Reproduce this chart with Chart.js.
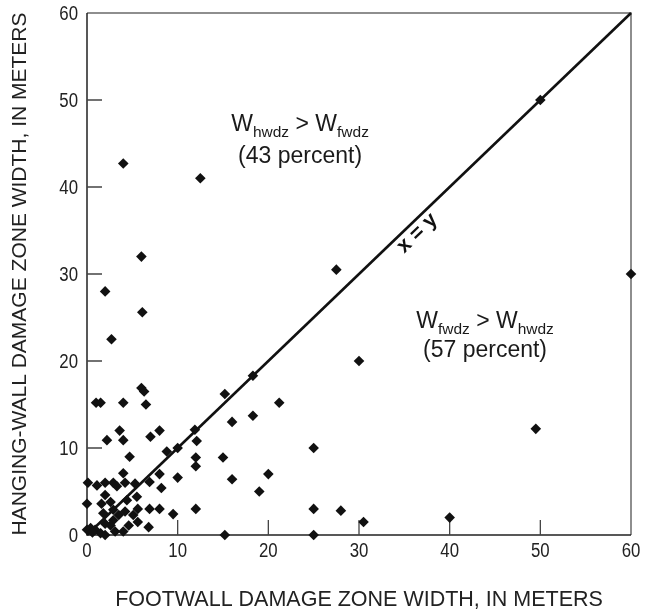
<!DOCTYPE html>
<html lang="en">
<head>
<meta charset="UTF-8">
<title>Damage zone widths</title>
<script src="https://cdn.jsdelivr.net/npm/chart.js"></script>
<style>
  html, body { margin: 0; padding: 0; background: #fff; }
  #wrap { width: 652px; height: 615px; }
</style>
</head>
<body>
<div id="wrap"><canvas id="dzChart"></canvas></div>
<script>
// footwall (x) and hanging-wall (y) damage zone widths, in meters
const footwall = [
  4.0, 12.5, 6.0, 2.0, 6.1, 2.7, 18.3, 50, 60, 27.5, 30, 49.5, 28, 30.5, 40,
  15.2, 21.2, 18.3, 16.0, 25, 15, 16, 20, 19, 25, 15.2, 25,
  6.0, 6.3, 1.0, 1.5, 4.0, 6.5, 3.6, 2.2, 4.0, 7.0, 8.0, 11.9, 12.1, 4.7, 8.8,
  10.0, 12.0, 12.0, 4.0, 8.0, 10.0, 8.2, 6.9, 9.5, 12.0, 8.0, 6.9, 5.6, 5.6,
  6.8, 5.5, 5.3,
  0.1, 1.1, 2.0, 2.9, 3.3, 4.2, 2.0, 0, 1.6, 2.6, 4.4, 1.8, 2.9, 3.5, 4.2, 5.1,
  2.9, 2.6, 2.0, 4.6, 0.4, 0, 0.9, 1.5, 2.0, 3.1, 4.0, 0.6
];
const hangingWall = [
  42.7, 41.0, 32.0, 28.0, 25.6, 22.5, 18.3, 50, 30, 30.5, 20, 12.2, 2.8, 1.5, 2.0,
  16.2, 15.2, 13.7, 13.0, 10, 8.9, 6.4, 7, 5, 3, 0, 0,
  16.9, 16.5, 15.2, 15.2, 15.2, 15.0, 12.0, 10.9, 10.9, 11.3, 12.0, 12.1, 10.8, 9.0, 9.6,
  10.0, 8.9, 7.9, 7.1, 7.0, 6.6, 5.4, 6.1, 2.4, 3.0, 3.0, 3.0, 3.0, 1.5,
  0.9, 4.4, 5.9,
  6.0, 5.7, 6.0, 6.0, 5.6, 6.0, 4.6, 3.6, 3.6, 3.8, 4.0, 2.5, 2.9, 2.3, 2.7, 2.3,
  1.7, 1.1, 1.3, 1.1, 0.8, 0.6, 0.6, 0.2, 0, 0.4, 0.4, 0.3
];
const tickValues = [0, 10, 20, 30, 40, 50, 60];
const equalityLine = [0, 60];

const sans = "'Liberation Sans', Arial, sans-serif";

const points = footwall.map((x, i) => ({ x: x, y: hangingWall[i] }));
const lineData = equalityLine.map(v => ({ x: v, y: v }));

// narrow tick label: regular face squeezed horizontally
function narrowText(ctx, text, x, y, align) {
  ctx.save();
  ctx.font = '20px ' + sans;
  ctx.textAlign = align;
  ctx.textBaseline = 'alphabetic';
  ctx.translate(x, y);
  ctx.scale(0.84, 1);
  ctx.fillText(text, 0, 0);
  ctx.restore();
}

// frame, inward ticks, tick labels and the text inside the plot
const decorations = {
  id: 'decorations',
  beforeDatasetsDraw(chart) {
    const { ctx, chartArea: a, scales: { x, y } } = chart;
    ctx.save();
    ctx.lineWidth = 1.5;
    ctx.strokeStyle = '#6a6a6a';
    ctx.beginPath();
    ctx.moveTo(a.left, a.top); ctx.lineTo(a.right, a.top); ctx.lineTo(a.right, a.bottom);
    ctx.stroke();
    ctx.strokeStyle = '#222';
    ctx.beginPath();
    ctx.moveTo(a.left, a.top); ctx.lineTo(a.left, a.bottom); ctx.lineTo(a.right, a.bottom);
    ctx.stroke();
    ctx.strokeStyle = '#444';
    ctx.lineWidth = 1.3;
    tickValues.slice(1, -1).forEach(v => {
      const px = x.getPixelForValue(v);
      const py = y.getPixelForValue(v);
      ctx.beginPath();
      ctx.moveTo(px, a.bottom); ctx.lineTo(px, a.bottom - 15);
      ctx.moveTo(a.left, py); ctx.lineTo(a.left + 15, py);
      ctx.stroke();
    });
    ctx.fillStyle = '#222';
    x.ticks.forEach(t => narrowText(ctx, String(t.value), x.getPixelForValue(t.value), a.bottom + 22, 'center'));
    y.ticks.forEach(t => narrowText(ctx, String(t.value), a.left - 9, y.getPixelForValue(t.value) + 7, 'right'));
    ctx.restore();
  },
  afterDatasetsDraw(chart) {
    const { ctx, scales: { x, y } } = chart;
    ctx.save();
    ctx.fillStyle = '#1a1a1a';
    drawSubText(ctx, [['W', 0], ['hwdz', 1], [' > W', 0], ['fwdz', 1]],
      x.getPixelForValue(23.5), y.getPixelForValue(46.4));
    drawCentered(ctx, '(43 percent)', x.getPixelForValue(23.5), y.getPixelForValue(42.8));
    drawSubText(ctx, [['W', 0], ['fwdz', 1], [' > W', 0], ['hwdz', 1]],
      x.getPixelForValue(43.9), y.getPixelForValue(23.8));
    drawCentered(ctx, '(57 percent)', x.getPixelForValue(43.9), y.getPixelForValue(20.5));

    // x = y label along the line
    const x0 = x.getPixelForValue(0), y0 = y.getPixelForValue(0);
    const x1 = x.getPixelForValue(60), y1 = y.getPixelForValue(60);
    const ang = Math.atan2(y1 - y0, x1 - x0);
    ctx.translate(x.getPixelForValue(35.6), y.getPixelForValue(35.6));
    ctx.rotate(ang);
    ctx.font = 'bold 21px ' + sans;
    ctx.textAlign = 'center';
    ctx.textBaseline = 'middle';
    ctx.fillStyle = '#111';
    ctx.fillText('x = y', 0, 11);
    ctx.restore();
  }
};

function drawCentered(ctx, text, cx, base) {
  ctx.font = '23px ' + sans;
  ctx.textAlign = 'center';
  ctx.textBaseline = 'alphabetic';
  ctx.fillText(text, cx, base);
}

function drawSubText(ctx, parts, cx, base) {
  const fonts = ['23px ' + sans, '15.5px ' + sans];
  let total = 0;
  parts.forEach(p => { ctx.font = fonts[p[1]]; total += ctx.measureText(p[0]).width; });
  let px = cx - total / 2;
  ctx.textAlign = 'left';
  ctx.textBaseline = 'alphabetic';
  parts.forEach(p => {
    ctx.font = fonts[p[1]];
    ctx.fillText(p[0], px, base + (p[1] ? 6 : 0));
    px += ctx.measureText(p[0]).width;
  });
}

const ctx = document.getElementById('dzChart').getContext('2d');
const dzChart = new Chart(ctx, {
  type: 'scatter',
  data: {
    datasets: [{
      label: 'Damage zones',
      data: points,
      pointStyle: 'rectRot',
      pointRadius: 5.3,
      backgroundColor: '#111',
      borderColor: '#111',
      borderWidth: 0,
      clip: false,
      order: 1
    }, {
      type: 'line',
      label: 'x = y',
      data: lineData,
      borderColor: '#111',
      borderWidth: 2.6,
      pointRadius: 0,
      fill: false,
      clip: false,
      order: 2
    }]
  },
  plugins: [decorations],
  options: {
    responsive: true,
    maintainAspectRatio: false,
    animation: false,
    layout: { padding: { top: 13, right: 21, left: 0, bottom: 0 } },
    plugins: {
      legend: { display: false },
      tooltip: { enabled: false }
    },
    scales: {
      x: {
        type: 'linear',
        min: 0,
        max: 60,
        afterBuildTicks: s => { s.ticks = tickValues.map(v => ({ value: v })); },
        afterFit: s => { s.height = 80; },
        grid: { display: false, drawTicks: false },
        border: { display: false },
        ticks: { display: false },
        title: {
          display: true,
          text: 'FOOTWALL DAMAGE ZONE WIDTH, IN METERS',
          font: { family: sans, size: 21.5 },
          color: '#222',
          padding: { top: 4, bottom: 2 }
        }
      },
      y: {
        type: 'linear',
        min: 0,
        max: 60,
        afterBuildTicks: s => { s.ticks = tickValues.map(v => ({ value: v })); },
        afterFit: s => { s.width = 87; },
        grid: { display: false, drawTicks: false },
        border: { display: false },
        ticks: { display: false },
        title: {
          display: true,
          text: 'HANGING-WALL DAMAGE ZONE WIDTH, IN METERS',
          font: { family: sans, size: 21 },
          color: '#222',
          padding: { top: 8, bottom: 4 }
        }
      }
    }
  }
});
</script>
</body>
</html>
